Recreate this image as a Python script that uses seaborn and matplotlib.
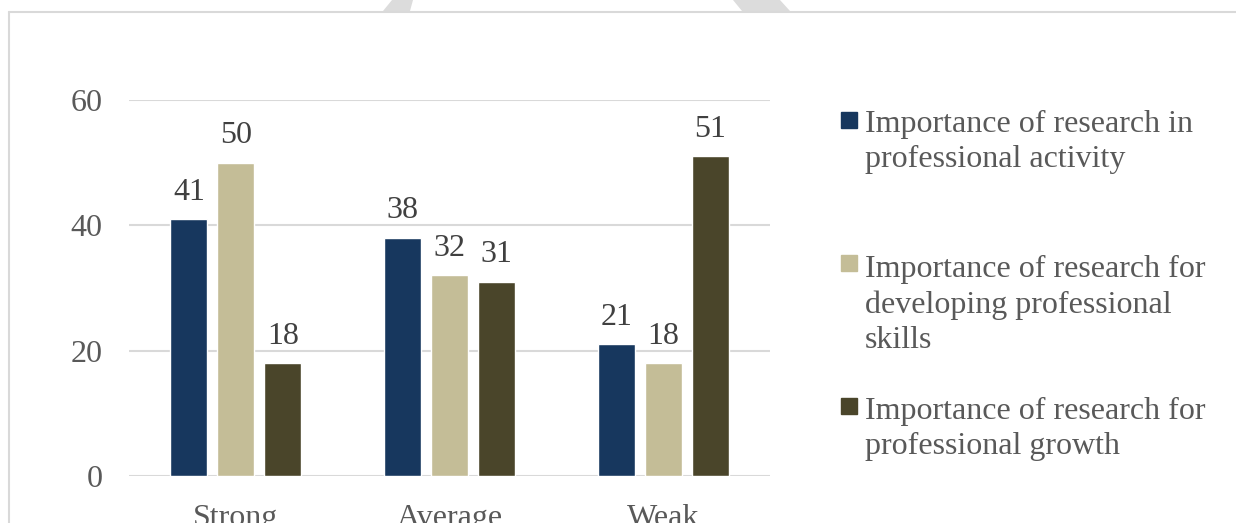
import pandas as pd
import matplotlib.pyplot as plt
import seaborn as sns
from matplotlib.patches import Rectangle, Polygon

# Dados
categorias = ['Strong', 'Average', 'Weak']
series = ['Importance of research in\nprofessional activity',
          'Importance of research for\ndeveloping professional\nskills',
          'Importance of research for\nprofessional growth']
atividade = [41, 38, 21]
habilidades = [50, 32, 18]
crescimento = [18, 31, 51]
cores = ['#17375E', '#C4BD97', '#4A452A']

df = pd.DataFrame({
    'categoria': categorias * 3,
    'serie': [series[0]] * 3 + [series[1]] * 3 + [series[2]] * 3,
    'valor': atividade + habilidades + crescimento,
})

sns.set_style('white')
plt.rcParams['font.family'] = ['Liberation Serif', 'DejaVu Serif']

W, H = 1236, 523
fig = plt.figure(figsize=(W / 100, H / 100), dpi=100)
ax = fig.add_axes([129 / W, (H - 476) / H, 641 / W, 376 / H])

sns.barplot(data=df, x='categoria', y='valor', hue='serie', order=categorias,
            hue_order=series, palette=cores, width=0.66, gap=0.21,
            saturation=1, ax=ax, legend=False, zorder=3)

for c in ax.containers:
    ax.bar_label(c, padding=9, fontsize=23, color='#404040')

ax.set_ylim(0, 60)
ax.set_xlim(-0.5, 2.5)
ax.set_yticks([0, 20, 40, 60])
ax.yaxis.grid(True, color='#d9d9d9', linewidth=1.5, zorder=0)
ax.set_axisbelow(True)
for s in ax.spines.values():
    s.set_visible(False)
ax.tick_params(axis='y', length=0, pad=19, labelsize=23, labelcolor='#595959')
ax.tick_params(axis='x', length=0, pad=20, labelsize=23, labelcolor='#595959')
ax.set_xlabel('')
ax.set_ylabel('')

# Legenda manual (estilo Excel): quadrado alinhado com a primeira linha
tops = [112, 255, 398]
ultima_base = [167, 348, 454]
for cor, rotulo, t, b in zip(cores, series, tops, ultima_base):
    fig.add_artist(Rectangle((841 / W, 1 - (t + 16) / H), 16 / W, 16 / H,
                             transform=fig.transFigure, color=cor))
    fig.text(865 / W, 1 - b / H, rotulo, fontsize=23, color='#595959',
             va='baseline', ha='left', linespacing=1.29)

# Moldura e marca d'agua
fig.add_artist(plt.Line2D([9 / W, 1], [1 - 12 / H, 1 - 12 / H],
                          transform=fig.transFigure, color='#d9d9d9', linewidth=1.5))
fig.add_artist(plt.Line2D([9 / W, 9 / W], [0, 1 - 12 / H],
                          transform=fig.transFigure, color='#d9d9d9', linewidth=1.5))
for pts in ([(392, 0), (413, 0), (410, 11), (383, 11)],
            [(733, 0), (780, 0), (790, 11), (742, 11)]):
    fig.add_artist(Polygon([(x / W, 1 - y / H) for x, y in pts], closed=True,
                           transform=fig.transFigure, color='#dcdcdc', linewidth=0))

plt.savefig('out.png', dpi=100)
